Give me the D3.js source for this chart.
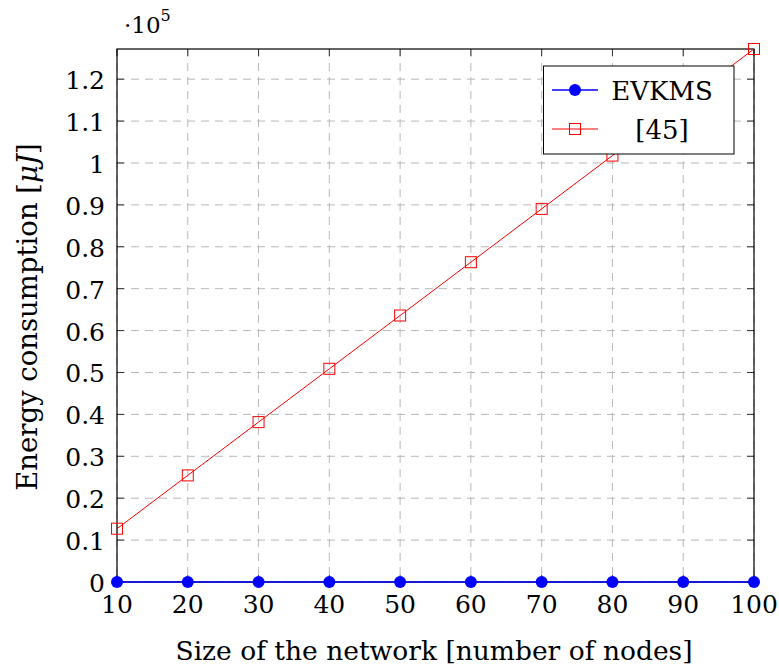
<!DOCTYPE html>
<html><head><meta charset="utf-8">
<script src="https://cdn.jsdelivr.net/npm/d3@7"></script>
<style>body{margin:0;background:#fff}svg{display:block}</style>
</head><body><svg id="c" width="779" height="669"></svg>
<script>
const nodes = [10,20,30,40,50,60,70,80,90,100];
const evkms = [0,0,0,0,0,0,0,0,0,0];
const ref45 = [12720,25440,38160,50880,63600,76320,89040,101760,114480,127200];
const xTicks = [10,20,30,40,50,60,70,80,90,100];
const yTicks = [0,0.1,0.2,0.3,0.4,0.5,0.6,0.7,0.8,0.9,1,1.1,1.2];
const seriesNames = ["EVKMS","[45]"];

const FONT = "'DejaVu Serif', serif";
const svg = d3.select("#c").attr("font-family",FONT);
const L=117, R=754, T=49, B=582;
const x = d3.scaleLinear().domain([10,100]).range([L,R]);
const y = d3.scaleLinear().domain([0,127200]).range([B,T]);
const FT = 25, FL = 26.5, FG = 26;

const g = svg.append("g");
g.selectAll(".gx").data(xTicks).enter().append("line")
 .attr("x1",d=>x(d)).attr("x2",d=>x(d)).attr("y1",T).attr("y2",B)
 .attr("stroke","#b8b8b8").attr("stroke-width",1).attr("stroke-dasharray","8,6");
g.selectAll(".gy").data(yTicks).enter().append("line")
 .attr("x1",L).attr("x2",R).attr("y1",d=>y(d*1e5)).attr("y2",d=>y(d*1e5))
 .attr("stroke","#b8b8b8").attr("stroke-width",1).attr("stroke-dasharray","8,6");

const tl=7;
xTicks.forEach(d=>{
  g.append("line").attr("x1",x(d)).attr("x2",x(d)).attr("y1",B).attr("y2",B-tl).attr("stroke","#333");
  g.append("line").attr("x1",x(d)).attr("x2",x(d)).attr("y1",T).attr("y2",T+tl).attr("stroke","#333");
});
yTicks.forEach(d=>{
  g.append("line").attr("x1",L).attr("x2",L+tl).attr("y1",y(d*1e5)).attr("y2",y(d*1e5)).attr("stroke","#333");
  g.append("line").attr("x1",R).attr("x2",R-tl).attr("y1",y(d*1e5)).attr("y2",y(d*1e5)).attr("stroke","#333");
});

svg.append("rect").attr("x",L).attr("y",T).attr("width",R-L).attr("height",B-T)
 .attr("fill","none").attr("stroke","#000").attr("stroke-width",1.2);

svg.selectAll(".xt").data(xTicks).enter().append("text")
 .attr("x",d=>x(d)).attr("y",613).attr("text-anchor","middle").attr("font-size",FT).text(d=>d);
svg.selectAll(".yt").data(yTicks).enter().append("text")
 .attr("x",105).attr("y",d=>y(d*1e5)+10).attr("text-anchor","end").attr("font-size",FT).text(d=>d);

const m = svg.append("text").attr("x",124).attr("y",33).attr("font-size",23);
m.append("tspan").text("·10");
m.append("tspan").attr("font-size",16).attr("dy",-12).text("5");

svg.append("text").attr("x",434).attr("y",660).attr("text-anchor","middle").attr("font-size",FL)
 .text("Size of the network [number of nodes]");
const yl = svg.append("text").attr("transform",`translate(37,317) rotate(-90)`)
 .attr("text-anchor","middle").attr("font-size",27.5);
yl.append("tspan").text("Energy consumption [");
yl.append("tspan").attr("font-style","italic").text("μJ");
yl.append("tspan").text("]");

const line = d3.line().x((d,i)=>x(nodes[i])).y(d=>y(d));
svg.append("path").datum(ref45).attr("d",line).attr("fill","none").attr("stroke","#ff0000").attr("stroke-width",1);
svg.append("path").datum(evkms).attr("d",line).attr("fill","none").attr("stroke","#0000ff").attr("stroke-width",1.3);

svg.selectAll(".sq").data(ref45).enter().append("rect")
 .attr("x",(d,i)=>x(nodes[i])-5.5).attr("y",d=>y(d)-5.5).attr("width",11).attr("height",11)
 .attr("fill","none").attr("stroke","#ff0000").attr("stroke-width",1);
svg.selectAll(".ci").data(evkms).enter().append("circle")
 .attr("cx",(d,i)=>x(nodes[i])).attr("cy",d=>y(d)).attr("r",6).attr("fill","#0000ff");

const lg = svg.append("g");
lg.append("rect").attr("x",543.5).attr("y",66).attr("width",190.5).attr("height",88)
 .attr("fill","#fff").attr("stroke","#000").attr("stroke-width",1);
const rows=[90,129];
lg.append("line").attr("x1",552).attr("x2",598).attr("y1",rows[0]).attr("y2",rows[0]).attr("stroke","#0000ff").attr("stroke-width",1.3);
lg.append("circle").attr("cx",575).attr("cy",rows[0]).attr("r",6).attr("fill","#0000ff");
lg.append("line").attr("x1",552).attr("x2",598).attr("y1",rows[1]).attr("y2",rows[1]).attr("stroke","#ff0000").attr("stroke-width",1);
lg.append("rect").attr("x",569.5).attr("y",rows[1]-5.5).attr("width",11).attr("height",11).attr("fill","none").attr("stroke","#ff0000");
seriesNames.forEach((n,i)=>{
  lg.append("text").attr("x",662).attr("y",rows[i]+9.5).attr("text-anchor","middle").attr("font-size",FG).text(n);
});
</script></body></html>
